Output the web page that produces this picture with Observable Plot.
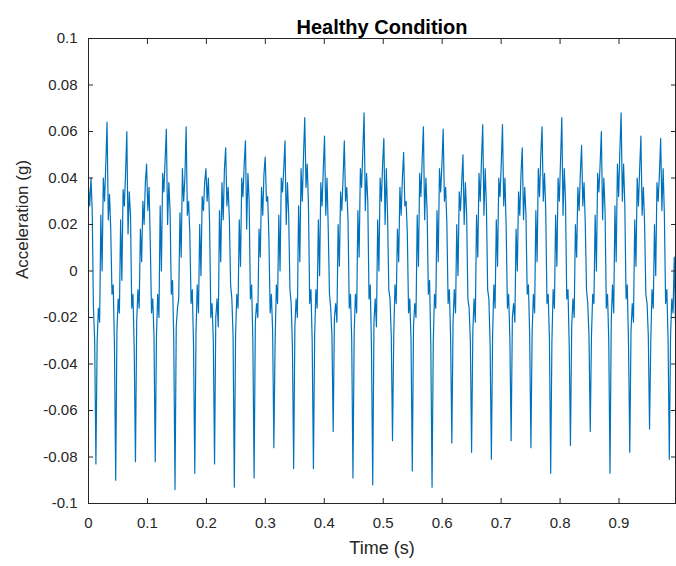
<!DOCTYPE html>
<html>
<head>
<meta charset="utf-8">
<script src="https://cdn.jsdelivr.net/npm/d3@7"></script>
<script src="https://cdn.jsdelivr.net/npm/@observablehq/plot@0.6"></script>
<style>
  html, body { margin: 0; padding: 0; background: #ffffff; }
  #chart { width: 676px; height: 566px; }
</style>
</head>
<body>
<div id="chart"></div>
<script>
// Sampling rate of the plotted record (Hz); samples start at t = 0
const sampleRate = 477;

// Acceleration samples in milli-g (0 – 0.34 s)
const accelA = [
  36, 28, 40, 26, -16, -30,
  -83, -30, -16, -22, 24, 0, 40, 30, 46, 64, 22, 33, 18, -10, -6, -32,
  -90, -26, -12, -18, 22, -4, 35, 28, 42, 60, 16, 34, 24, -16, -10, -34,
  -82, -22, -8, -16, 18, 4, 30, 20, 38, 46, 26, 36, 12, -18, -12, -28,
  -82, -28, -10, -20, 28, 0, 42, 34, 48, 61, 20, 38, 26, -10, -4, -30,
  -94, -24, -16, -12, 25, 6, 44, 30, 40, 62, 24, 30, 16, -14, -8, -32,
  -87, -26, -6, -18, 20, -2, 32, 26, 38, 44, 30, 40, 20, -20, -14, -30,
  -83, -20, -12, -24, 26, 4, 38, 22, 44, 53, 28, 36, 22, -6, -12, -28,
  -93, -28, -10, -16, 22, 2, 40, 32, 46, 56, 18, 42, 30, -12, -6, -30,
  -89, -22, -14, -20, 18, 6, 36, 24, 42, 49, 30, 32, 14, -18, -10, -26,
  -76, -30, -6, -14, 24, 0, 40, 34, 44, 56, 20, 38, 24, -8, -14, -32
];
// 0.34 – 0.67 s
const accelB = [
  -85, -24, -12, -20, 28, 4, 44, 30, 50, 66, 36, 46, 28, -14, -8, -30,
  -85, -28, -8, -16, 22, -2, 38, 28, 44, 58, 24, 40, 18, -10, -16, -28,
  -69, -20, -14, -22, 20, 2, 34, 26, 40, 56, 30, 36, 22, -16, -10, -30,
  -89, -26, -10, -18, 26, 6, 44, 36, 52, 68, 26, 42, 30, -12, -6, -34,
  -92, -22, -12, -24, 22, 0, 40, 30, 46, 57, 20, 44, 24, -8, -12, -28,
  -73, -28, -6, -14, 18, 4, 36, 24, 40, 51, 28, 30, 16, -18, -12, -30,
  -86, -24, -14, -20, 24, 2, 42, 32, 48, 62, 22, 40, 26, -10, -4, -32,
  -93, -30, -10, -16, 26, 4, 44, 34, 46, 61, 30, 36, 20, -14, -8, -28,
  -74, -22, -8, -18, 20, -2, 34, 26, 38, 50, 20, 38, 24, -12, -16, -30,
  -78, -26, -12, -22, 24, 6, 42, 30, 48, 63, 24, 44, 28, -8, -12, -32
];
// 0.67 – 1.0 s
const accelC = [
  -81, -28, -6, -16, 22, 2, 40, 32, 46, 63, 28, 40, 18, -16, -10, -30,
  -73, -20, -14, -22, 18, 0, 34, 24, 42, 53, 22, 36, 24, -10, -6, -28,
  -76, -26, -10, -18, 26, 4, 44, 32, 50, 62, 30, 42, 26, -14, -10, -30,
  -87, -30, -8, -16, 24, 2, 40, 30, 48, 66, 24, 44, 30, -12, -8, -32,
  -75, -24, -12, -20, 20, 6, 36, 26, 42, 54, 28, 38, 20, -8, -14, -28,
  -69, -28, -10, -14, 24, 0, 42, 34, 46, 60, 22, 40, 26, -16, -10, -30,
  -87, -22, -6, -18, 28, 4, 46, 32, 52, 68, 30, 46, 28, -12, -6, -32,
  -78, -26, -14, -22, 22, 2, 40, 28, 44, 58, 24, 36, 20, -10, -14, -28,
  -68, -30, -8, -16, 20, -2, 38, 30, 42, 57, 26, 44, 24, -14, -8, -30,
  -81, -28, -12, -18, 6, -22
];

const xTicks = [0, 0.1, 0.2, 0.3, 0.4, 0.5, 0.6, 0.7, 0.8, 0.9];
const yTicks = [-0.1, -0.08, -0.06, -0.04, -0.02, 0, 0.02, 0.04, 0.06, 0.08, 0.1];

const titleText = "Healthy Condition";
const xLabel = "Time (s)";
const yLabel = "Acceleration (g)";

const accel = [...accelA, ...accelB, ...accelC].map(v => v / 1000);
const data = accel.map((a, i) => ({ t: i / sampleRate, a }));
const tEnd = (accel.length - 1) / sampleRate;

const fmt = d => String(+d.toFixed(2));
const font = "'Liberation Sans', Arial, Helvetica, sans-serif";
const axisColor = "#262626";

const chart = Plot.plot({
  width: 676,
  height: 566,
  marginLeft: 88,
  marginRight: 1,
  marginTop: 38,
  marginBottom: 63,
  style: { fontFamily: font, fontSize: "15px", color: axisColor, background: "#ffffff", overflow: "visible" },
  x: { domain: [0, tEnd], label: null },
  y: { domain: [-0.1, 0.1], label: null },
  marks: [
    Plot.line(data, { x: "t", y: "a", stroke: "#0072BD", strokeWidth: 1.2 }),
    Plot.frame({ stroke: axisColor, strokeWidth: 1 }),
    // inward tick marks on all four sides
    Plot.axisX(xTicks, { anchor: "bottom", tickSize: 5, dy: -5, text: null, stroke: axisColor }),
    Plot.axisX(xTicks, { anchor: "top", tickSize: 5, dy: 5, text: null, stroke: axisColor }),
    Plot.axisY(yTicks, { anchor: "left", tickSize: 5, dx: 5, text: null, stroke: axisColor }),
    Plot.axisY(yTicks, { anchor: "right", tickSize: 5, dx: -5, text: null, stroke: axisColor }),
    // tick labels
    Plot.axisX(xTicks, { anchor: "bottom", tickSize: 0, tickPadding: 14, tickFormat: fmt, fontSize: 15, fill: axisColor, label: null }),
    Plot.axisY(yTicks, { anchor: "left", tickSize: 0, tickPadding: 11, tickFormat: fmt, fontSize: 15, fill: axisColor, label: null }),
    // title and axis labels
    Plot.text([titleText], { frameAnchor: "top", dy: -19, fontSize: 20, fontWeight: "bold", fill: "#000" }),
    Plot.text([xLabel], { frameAnchor: "bottom", dy: 50, fontSize: 18, fill: axisColor }),
    Plot.text([yLabel], { frameAnchor: "left", dx: -66, dy: 8, rotate: -90, fontSize: 17, fill: axisColor })
  ]
});

document.getElementById("chart").appendChild(chart);
</script>
</body>
</html>
